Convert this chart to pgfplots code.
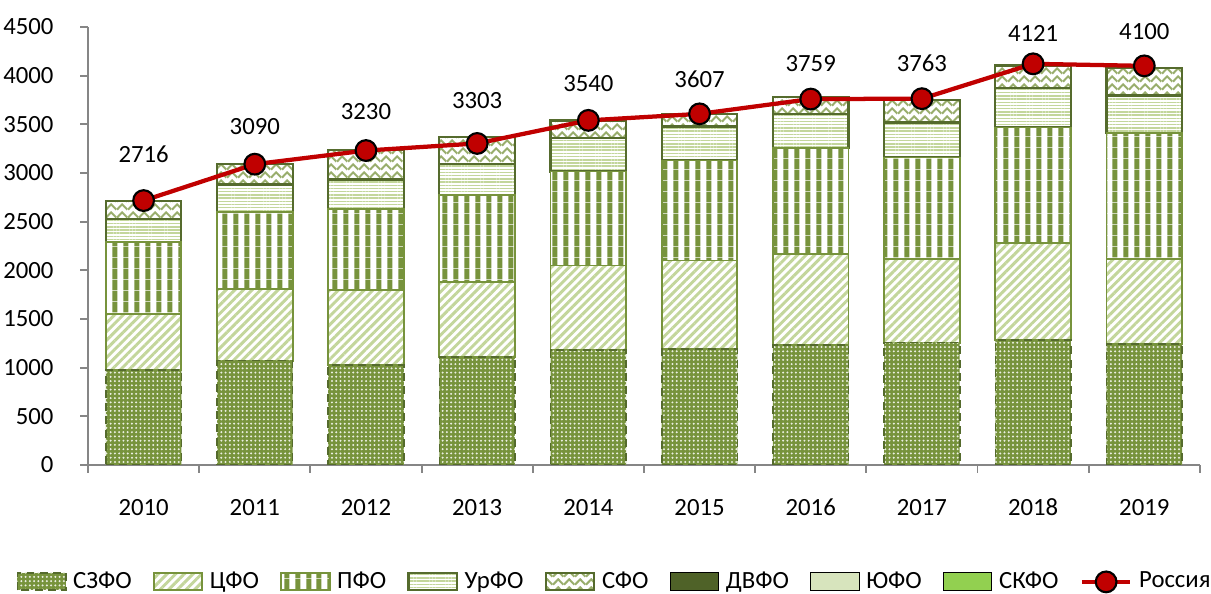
\documentclass[border=0pt]{standalone}
\usepackage{fontspec}
\setmainfont{Carlito}
\usepackage{pgfplots}
\usepackage{pgfplotstable}
\pgfplotsset{compat=1.18}
\usetikzlibrary{patterns.meta,calc}

\definecolor{olv}{RGB}{119,147,60}
\definecolor{olvDark}{RGB}{85,107,45}
\definecolor{dvfoC}{RGB}{79,98,40}
\definecolor{lgreen}{RGB}{195,214,155}
\definecolor{pale}{RGB}{215,228,189}
\definecolor{brgreen}{RGB}{146,208,80}
\definecolor{rusRed}{RGB}{192,0,0}
\definecolor{axgray}{RGB}{134,134,134}

\newcommand\lbl{\fontsize{9.3}{11}\selectfont}

% zigzag weave for the SFO segment
\tikzdeclarepattern{
  name=zigzag,
  bounding box={(0pt,0pt) and (4pt,3pt)},
  tile size={(4pt,3pt)},
  code={
    \draw[line width=0.75pt] (0pt,0.5pt) -- (2pt,2.5pt) -- (4pt,0.5pt);
  }
}

% stacked parts by district
\pgfplotstableread{
x szfo cfo pfo urfo sfo dvfo yufo skfo
0 976 576 740 239 185 0 0 0
1 1072 733 798 278 212 0 0 0
2 1024 771 836 302 304 0 0 0
3 1107 770 898 318 275 0 0 0
4 1182 867 966 341 183 0 0 0
5 1189 911 1028 349 127 0 0 0
6 1233 932 1090 352 172 0 0 0
7 1257 863 1038 360 233 0 0 0
8 1285 997 1185 404 233 0 0 0
9 1240 880 1289 387 284 0 0 0
}\regions

% Russia total, dy = label offset (pt)
\pgfplotstableread{
x y dy
0 2716 17.3
1 3090 14.3
2 3230 14.7
3 3303 16.2
4 3540 13.9
5 3607 13.2
6 3759 13.2
7 3763 13.2
8 4121 11.5
9 4100 13.0
}\russia

\pgfplotsset{
  barleg/.style={legend image code/.code={\draw[##1] (0cm,-0.11cm) rectangle (0.64cm,0.12cm);}},
  lineleg/.style={legend image code/.code={\draw[##1] (0cm,0cm) -- (0.64cm,0cm); \draw[##1] plot[only marks] coordinates {(0.32cm,0cm)};}},
  rusline/.style={draw=rusRed, line width=1.6pt, mark=*, mark size=3.9pt,
    mark options={fill=rusRed, draw=black, line width=0.8pt, solid}},
  /pgf/number format/1000 sep={},
  /pgf/number format/assume math mode=true,
}

\begin{document}
\begin{tikzpicture}
\begin{axis}[name=ax,
  scale only axis, width=14.69cm, height=5.787cm,
  ybar stacked, bar width=0.68,
  xmin=-0.5, xmax=9.5, ymin=0, ymax=4500,
  ytick={0,500,...,4500},
  xtick={-0.5,0.5,...,9.5}, x tick label as interval,
  xticklabels={2010,2011,2012,2013,2014,2015,2016,2017,2018,2019},
  axis x line*=bottom, axis y line*=left,
  axis line style={draw=axgray, line width=0.7pt},
  tick align=outside, major tick length=3pt,
  tick style={draw=axgray, line width=0.7pt},
  tick label style={font=\lbl},
  yticklabel style={anchor=east, inner sep=0pt, xshift=-0.344cm},
  xticklabel style={anchor=base, inner sep=0pt, yshift=-0.568cm},
  legend columns=9,
  legend style={draw=none, fill=none, font=\lbl, at={(0.475,-0.267)}, anchor=center,
    /tikz/every odd column/.append style={column sep=0.5pt},
    /tikz/every even column/.append style={column sep=6pt}},
  legend cell align=left,
]
\addplot[barleg, fill=olv, draw=olvDark, densely dashed, line width=0.6pt,
  postaction={pattern={Dots[radius=0.42pt,distance=1.6pt]}, pattern color=white!85!olv}]
  table[x=x,y=szfo] {\regions};
\addlegendentry{СЗФО}
\addplot[barleg, fill=white, draw=olv, line width=0.7pt,
  postaction={pattern={Lines[angle=45,distance=2.3pt,line width=1.1pt]}, pattern color=lgreen}]
  table[x=x,y=cfo] {\regions};
\addlegendentry{ЦФО}
\addplot[barleg, fill=white, draw=olv, line width=0.7pt,
  postaction={pattern={Lines[angle=90,distance=4pt,line width=2pt]}, pattern color=olv}]
  table[x=x,y=pfo] {\regions};
\addlegendentry{ПФО}
\addplot[barleg, fill=white, draw=olvDark, line width=0.8pt,
  postaction={pattern={Lines[angle=0,distance=1.2pt,line width=0.55pt]}, pattern color=lgreen}]
  table[x=x,y=urfo] {\regions};
\addlegendentry{УрФО}
\addplot[barleg, fill=white, draw=olvDark, line width=0.8pt,
  postaction={pattern=zigzag, pattern color=olv!75}]
  table[x=x,y=sfo] {\regions};
\addlegendentry{СФО}
\addplot[barleg, fill=dvfoC, draw=none] table[x=x,y=dvfo] {\regions};
\addlegendentry{ДВФО}
\addplot[barleg, fill=pale, draw=none] table[x=x,y=yufo] {\regions};
\addlegendentry{ЮФО}
\addplot[barleg, fill=brgreen, draw=none] table[x=x,y=skfo] {\regions};
\addlegendentry{СКФО}
\addlegendimage{sharp plot, lineleg, rusline}
\addlegendentry{Россия}
\end{axis}
% Russia total as a line over the bars
\begin{axis}[
  scale only axis, width=14.69cm, height=5.787cm,
  xmin=-0.5, xmax=9.5, ymin=0, ymax=4500,
  hide axis, clip=false,
]
\addplot[rusline, nodes near coords, point meta=explicit,
  visualization depends on={\thisrow{dy} \as \dy},
  every node near coord/.append style={anchor=center, yshift=\dy pt, font=\lbl, text=black}]
  table[x=x,y=y,meta=y] {\russia};
\end{axis}
\pgfresetboundingbox
\path ($(ax.south west)+(-1.163,-1.704)$) rectangle ($(ax.south west)+(14.837,6.143)$);
\end{tikzpicture}
\end{document}
